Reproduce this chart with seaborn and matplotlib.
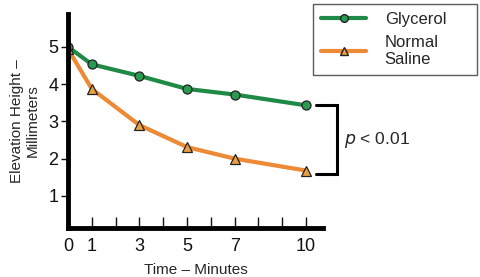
import seaborn as sns
import pandas as pd
from matplotlib import pyplot as plt
from matplotlib.lines import Line2D

# values
minutes = [0, 1, 3, 5, 7, 10]
glycerol = [5.0, 4.53, 4.22, 3.87, 3.72, 3.43]
saline = [4.94, 3.87, 2.90, 2.31, 2.00, 1.68]
series = ["Glycerol", "Normal\nSaline"]
xtick_labels = ["0", "1", "", "3", "", "5", "", "7", "", "", "10"]
ytick_values = [1, 2, 3, 4, 5]

df = pd.DataFrame({
    "Time": minutes * 2,
    "Height": glycerol + saline,
    "Group": [series[0]] * len(minutes) + [series[1]] * len(minutes),
})

sns.set_style("white")
plt.rcParams["font.family"] = ["Liberation Sans", "DejaVu Sans"]

fig = plt.figure(figsize=(4.8, 2.77), dpi=100)
ax = fig.add_axes([68 / 480, 49 / 277, 255 / 480, 214 / 277])

palette = {series[0]: "#1f8a45", series[1]: "#ec8a35"}
sns.lineplot(data=df, x="Time", y="Height", hue="Group", style="Group",
             palette=palette, markers={series[0]: "o", series[1]: "^"},
             dashes=False, linewidth=3, markersize=6.5,
             markeredgecolor="#222222", markeredgewidth=0.9,
             ax=ax, legend=False)
# marker faces slightly lighter than lines
ax.lines[0].set_markerfacecolor("#2a9a52")
ax.lines[1].set_markerfacecolor("#e9a040")

ax.set_xlim(0, 10.71)
ax.set_ylim(0.14, 5.88)
ax.set_xticks(range(0, 11))
ax.set_xticklabels(xtick_labels)
ax.set_yticks(ytick_values)
ax.tick_params(axis="x", bottom=True, direction="in", length=8, width=1,
               labelsize=13, pad=7, colors="#111111")
ax.tick_params(axis="y", left=True, direction="out", length=5, width=1,
               labelsize=13, pad=2, colors="#111111")
for s in ["top", "right"]:
    ax.spines[s].set_visible(False)
for s in ["left", "bottom"]:
    ax.spines[s].set_linewidth(3.5)
    ax.spines[s].set_color("black")

ax.set_xlabel("Time – Minutes", fontsize=11, labelpad=6)
ax.set_ylabel("Elevation Height –\nMillimeters", fontsize=11, labelpad=6)

# significance bracket
ax.plot([10.4, 11.3, 11.3, 10.4], [3.43, 3.43, 1.58, 1.58], color="black",
        lw=2.2, clip_on=False, solid_joinstyle="miter")
ax.text(11.6, 2.5, "$p$ < 0.01", fontsize=12.5, va="center", ha="left")

# legend
handles = [
    Line2D([], [], color=palette[series[0]], lw=3, marker="o", markersize=5.5,
           markerfacecolor="#2a9a52", markeredgecolor="#222222"),
    Line2D([], [], color=palette[series[1]], lw=3, marker="^", markersize=6,
           markerfacecolor="#e9a040", markeredgecolor="#222222"),
]
leg = fig.legend(handles, series, loc="upper left", mode="expand",
                 bbox_to_anchor=(313 / 480, (277 - 70) / 277, 164 / 480, 66 / 277),
                 fontsize=12, frameon=True, fancybox=False, edgecolor="#333333",
                 handlelength=2.7, borderpad=0.5, borderaxespad=0, labelspacing=0.45,
                 handletextpad=1.1)
leg.get_frame().set_linewidth(1)
for t in leg.get_texts():
    t.set_linespacing(1.15)

plt.savefig("out.png", dpi=100)
